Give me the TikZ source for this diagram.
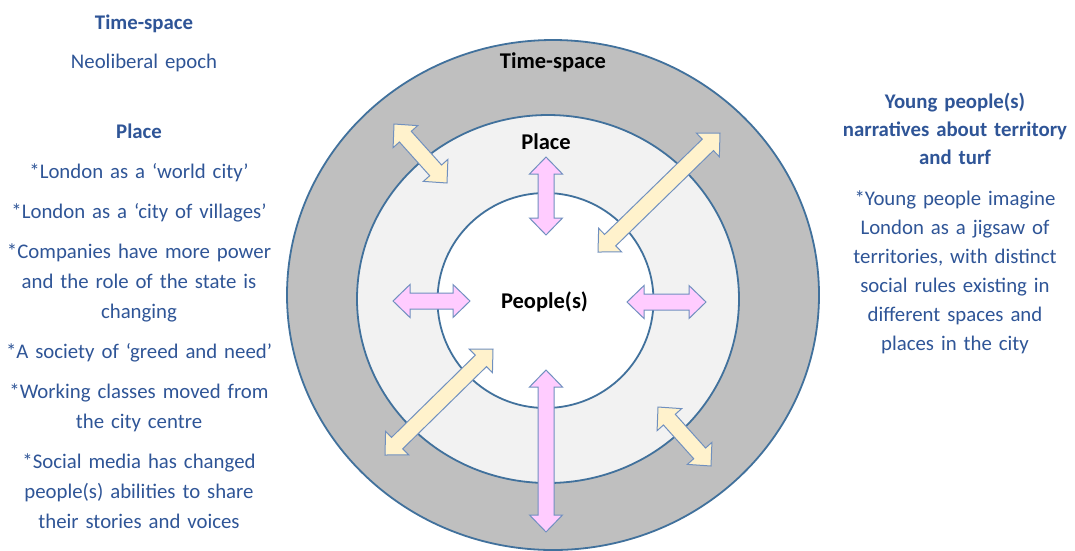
\documentclass[tikz,border=0pt]{standalone}
\usepackage{fontspec}
\setmainfont{Carlito}
\usetikzlibrary{calc,shapes.geometric}
\definecolor{txtblue}{HTML}{2F5597}
\definecolor{ringline}{HTML}{41719C}
\definecolor{arrline}{HTML}{7090BF}
\definecolor{outerfill}{HTML}{BFBFBF}
\definecolor{midfill}{HTML}{F2F2F2}
\definecolor{pinkfill}{HTML}{FFCCFF}
\definecolor{yelfill}{HTML}{FFF2CC}
\newcommand{\dbarrow}[3]{%
  \draw[arrowshape, fill=#3]
    (#1)
    -- ($(#1)!17pt!(#2)!16.5pt!90:(#2)$)
    -- ($(#1)!17pt!(#2)!8pt!90:(#2)$)
    -- ($(#2)!17pt!(#1)!8pt!-90:(#1)$)
    -- ($(#2)!17pt!(#1)!16.5pt!-90:(#1)$)
    -- (#2)
    -- ($(#2)!17pt!(#1)!16.5pt!90:(#1)$)
    -- ($(#2)!17pt!(#1)!8pt!90:(#1)$)
    -- ($(#1)!17pt!(#2)!8pt!-90:(#2)$)
    -- ($(#1)!17pt!(#2)!16.5pt!-90:(#2)$)
    -- cycle;}
\begin{document}
\begin{tikzpicture}[x=1pt,y=-1pt,
  ring/.style={ellipse, draw=ringline, line width=1.8pt, inner sep=0pt},
  arrowshape/.style={draw=arrline, line width=1pt, line join=miter},
  sidetext/.style={text=txtblue, text width=300pt, align=center, anchor=base, inner sep=0pt, font=\fontsize{20.8}{30}\selectfont},
  righttext/.style={text=txtblue, text width=260pt, align=center, anchor=base, inner sep=0pt, font=\fontsize{20.8}{29}\selectfont},
  ringlabel/.style={text=black, anchor=base, inner sep=0pt, font=\bfseries\fontsize{22.5}{27}\selectfont}]
\useasboundingbox (0,0) rectangle (1075,550);
\fill[white] (0,0) rectangle (1075,550);

% rings
\node[ring, fill=outerfill, minimum width=532pt, minimum height=510pt] (outer) at (553,295) {};
\node[ring, fill=midfill, minimum width=382pt, minimum height=368pt] (middle) at (548,299) {};
\node[ring, fill=white, minimum width=216pt, minimum height=215pt] (inner) at (545.5,300.5) {};

% arrow end points
\coordinate (pta) at (546,157);  \coordinate (ptb) at (546,235);
\coordinate (pla) at (393,301);  \coordinate (plb) at (470,301);
\coordinate (pra) at (627,302);  \coordinate (prb) at (706,302);
\coordinate (pba) at (546,370);  \coordinate (pbb) at (546,532);
\coordinate (ytla) at (394,124); \coordinate (ytlb) at (447,183);
\coordinate (ytra) at (720,133); \coordinate (ytrb) at (598,252);
\coordinate (ybla) at (493,349); \coordinate (yblb) at (385,455);
\coordinate (ybra) at (658,407); \coordinate (ybrb) at (711,466);

\dbarrow{pta}{ptb}{pinkfill}
\dbarrow{pla}{plb}{pinkfill}
\dbarrow{pra}{prb}{pinkfill}
\dbarrow{pba}{pbb}{pinkfill}
\dbarrow{ytla}{ytlb}{yelfill}
\dbarrow{ytra}{ytrb}{yelfill}
\dbarrow{ybla}{yblb}{yelfill}
\dbarrow{ybra}{ybrb}{yelfill}

% ring labels
\node[ringlabel] (lts) at (553,68) {Time-space};
\node[ringlabel] (lpl) at (546,149) {Place};
\node[ringlabel] (lpe) at (544.5,308) {People(s)};

% left column
\node[sidetext, font=\bfseries\fontsize{20.8}{30}\selectfont] (l1) at (144,29) {Time-space};
\node[sidetext] (l2) at (144,68) {Neoliberal epoch};
\node[sidetext, font=\bfseries\fontsize{20.8}{30}\selectfont] (l3) at (139,138) {Place};
\node[sidetext] (l4) at (139,178) {*London as a ‘world city’};
\node[sidetext] (l5) at (139,218) {*London as a ‘city of villages’};
\node[sidetext] (l6) at (139,258) {*Companies have more power\\and the role of the state is\\changing};
\node[sidetext] (l7) at (139,358) {*A society of ‘greed and need’};
\node[sidetext] (l8) at (139,398) {*Working classes moved from\\the city centre};
\node[sidetext] (l9) at (139,468) {*Social media has changed\\people(s) abilities to share\\their stories and voices};

% right column
\node[righttext, font=\bfseries\fontsize{20.8}{28}\selectfont] (r1) at (955,108) {Young people(s)\\narratives about territory\\and turf};
\node[righttext] (r2) at (955,205) {*Young people imagine\\London as a jigsaw of\\territories, with distinct\\social rules existing in\\different spaces and\\places in the city};
\end{tikzpicture}
\end{document}
